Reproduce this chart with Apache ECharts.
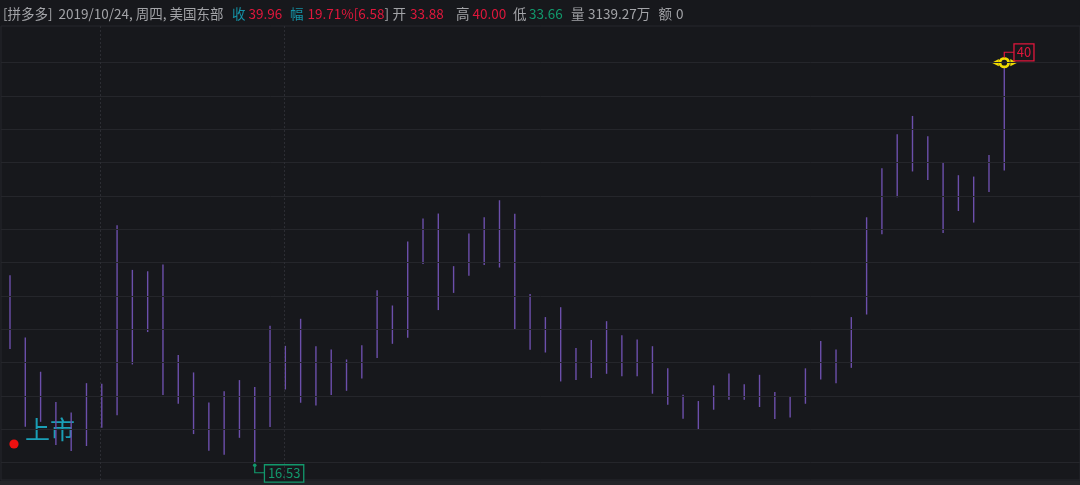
<!DOCTYPE html>
<html>
<head>
<meta charset="utf-8">
<title>拼多多 周K</title>
<script src="https://cdn.jsdelivr.net/npm/echarts@6/dist/echarts.min.js"></script>
<style>
  html, body { margin: 0; padding: 0; background: #17181c; }
  #chart { width: 1080px; height: 485px; }
</style>
</head>
<body>
<div id="chart"></div>
<script>
// Weekly high / low prices, from the listing week to 2019/10/24
const highs = [
  27.52, 23.86, 21.85, 20.07, 19.46, 21.18, 21.14, 30.45, 27.83, 27.75,
  28.15, 22.84, 21.81, 20.05, 20.70, 21.36, 20.95, 24.55, 23.37, 24.96,
  23.35, 23.16, 22.57, 23.41, 26.64, 25.74, 29.50, 30.85, 31.14, 28.05,
  29.97, 30.92, 31.92, 31.12, 26.42, 25.06, 25.64, 23.25, 23.71, 24.82,
  24.00, 23.75, 23.35, 22.05, 20.50, 20.13, 21.05, 21.75, 21.11, 21.67,
  20.66, 20.38, 22.05, 23.65, 23.16, 25.06, 30.92, 33.80, 35.79, 36.87,
  35.68, 34.15, 33.39, 33.31, 34.58, 40.00
];
const lows = [
  23.18, 18.62, 18.91, 17.55, 17.19, 17.49, 18.56, 19.29, 22.28, 24.18,
  20.48, 19.97, 18.19, 17.21, 16.98, 17.97, 16.53, 18.60, 20.81, 20.03,
  19.87, 20.48, 20.73, 21.46, 22.65, 23.49, 23.84, 28.18, 25.47, 26.48,
  27.48, 28.12, 27.97, 24.31, 23.14, 22.98, 21.28, 21.36, 21.48, 21.73,
  21.58, 21.58, 20.56, 19.91, 19.09, 18.43, 19.62, 20.20, 20.20, 19.78,
  19.07, 19.17, 19.97, 21.40, 21.17, 22.08, 25.21, 29.93, 32.10, 33.61,
  33.11, 30.00, 31.29, 30.61, 32.41, 33.66
];
// Week indices where a period separator is drawn
const separatorWeeks = [6, 18];

// Quote of the latest week
const stockName = '拼多多';
const quoteDate = '2019/10/24, 周四, 美国东部';
const lastClose = 39.96;
const lastChangePct = '19.71%';
const lastChange = 6.58;
const lastOpen = 33.88;
const lastVolume = '3139.27万';
const lastAmount = 0;
const listingLabel = '上市';

const last = highs.length - 1;
const maxHigh = Math.max.apply(null, highs);
const minLow = Math.min.apply(null, lows);
const maxIdx = highs.indexOf(maxHigh);
const minIdx = lows.indexOf(minLow);
const step = (maxHigh - minLow) / 12;
const gridValues = [];
for (let k = 0; k <= 12; k++) gridValues.push(minLow + k * step);

const BG = '#17181c';
const GRAY = '#a3a4a8';
const RED = '#e0173c';
const TEAL = '#1592a6';
const GREEN = '#12996c';
const BAR = '#6c4fab';
const YELLOW = '#f2dc00';
const FONT = '13.5px "Noto Sans CJK SC", "Noto Sans", sans-serif';
const TAG_FONT = '13px "Noto Sans CJK SC", "Noto Sans", sans-serif';

const seriesData = highs.map((h, i) => [i, lows[i], h]);

function renderBar(params, api) {
  const i = api.value(0);
  const pLo = api.coord([i, api.value(1)]);
  const pHi = api.coord([i, api.value(2)]);
  const children = [{
    type: 'line',
    shape: { x1: pLo[0], y1: pLo[1], x2: pHi[0], y2: pHi[1] },
    style: { stroke: BAR, lineWidth: 1.4 }
  }];
  if (params.dataIndex === maxIdx) {
    // highest point: ringed, with a boxed value tag
    const x = pHi[0], y = pHi[1];
    children.push(
      { type: 'polygon', shape: { points: [[x - 12.5, y], [x - 5.5, y - 3.6], [x - 5.5, y + 3.6]] }, style: { fill: YELLOW } },
      { type: 'polygon', shape: { points: [[x + 13, y], [x + 6, y - 3.6], [x + 6, y + 3.6]] }, style: { fill: YELLOW } },
      { type: 'circle', shape: { cx: x, cy: y, r: 4.3 }, style: { fill: BG, stroke: YELLOW, lineWidth: 2.8 } },
      { type: 'polyline', shape: { points: [[x, y - 5], [x, y - 10.4], [x + 9.7, y - 10.4]] }, style: { stroke: RED, lineWidth: 1.2, fill: null } },
      { type: 'rect', shape: { x: x + 9.7, y: y - 18.7, width: 20, height: 17 }, style: { fill: BG, stroke: RED, lineWidth: 1.3 } },
      { type: 'text', x: x + 19.7, y: y - 10.1, style: { text: String(maxHigh), fill: RED, font: TAG_FONT, align: 'center', verticalAlign: 'middle' } }
    );
  }
  if (params.dataIndex === minIdx) {
    // lowest point: boxed value tag below the bar
    const x = pLo[0], y = pLo[1];
    children.push(
      { type: 'circle', shape: { cx: x, cy: y + 3, r: 1.8 }, style: { fill: GREEN } },
      { type: 'polyline', shape: { points: [[x, y + 3], [x, y + 10.4], [x + 9.7, y + 10.4]] }, style: { stroke: GREEN, lineWidth: 1.2, fill: null } },
      { type: 'rect', shape: { x: x + 9.7, y: y + 2.4, width: 39.3, height: 17.3 }, style: { fill: BG, stroke: GREEN, lineWidth: 1.3 } },
      { type: 'text', x: x + 29.4, y: y + 11.2, style: { text: String(minLow), fill: GREEN, font: TAG_FONT, align: 'center', verticalAlign: 'middle' } }
    );
  }
  return { type: 'group', children: children };
}

// Quote header, laid out piece by piece
const headerParts = [
  [3, '[' + stockName + ']', GRAY],
  [58.5, quoteDate, GRAY],
  [232, '收', TEAL],
  [248.5, lastClose.toFixed(2), RED],
  [290, '幅', TEAL],
  [307.5, '{r|' + lastChangePct + '[' + lastChange.toFixed(2) + '}{g|]}', RED],
  [392.5, '开', GRAY],
  [410, lastOpen.toFixed(2), RED],
  [456, '高', GRAY],
  [472.5, highs[last].toFixed(2), RED],
  [513, '低', GRAY],
  [529, lows[last].toFixed(2), GREEN],
  [571, '量', GRAY],
  [588, lastVolume, GRAY],
  [658.5, '额', GRAY],
  [676, String(lastAmount), GRAY]
];
const graphics = headerParts.map(p => ({
  type: 'text', x: p[0], y: 14, silent: true,
  style: {
    text: p[1], fill: p[2], font: FONT, verticalAlign: 'middle',
    rich: {
      r: { fill: RED, font: FONT },
      g: { fill: GRAY, font: FONT }
    }
  }
}));
graphics.push(
  { type: 'rect', shape: { x: 0, y: 481, width: 1080, height: 4 }, style: { fill: '#232428' }, silent: true },
  { type: 'circle', shape: { cx: 14, cy: 444, r: 4.6 }, style: { fill: '#f01010' }, silent: true },
  { type: 'text', x: 25, y: 429, silent: true,
    style: { text: listingLabel, fill: '#1a9fb6', font: '25px "Noto Sans CJK SC", sans-serif', verticalAlign: 'middle' } }
);

const chart = echarts.init(document.getElementById('chart'), null, { renderer: 'canvas' });
chart.setOption({
  backgroundColor: BG,
  animation: false,
  grid: {
    left: 1, right: 0, top: 26, bottom: 5,
    show: true, borderColor: '#26272c', borderWidth: 1, backgroundColor: 'transparent'
  },
  xAxis: {
    type: 'value',
    min: -0.588, max: last + 4.95,
    axisLine: { show: false }, axisTick: { show: false }, axisLabel: { show: false },
    splitLine: { show: false }
  },
  yAxis: {
    type: 'value',
    min: minLow - 0.53 * step, max: maxHigh + 1.10 * step,
    axisLine: { show: false }, axisTick: { show: false }, axisLabel: { show: false },
    splitLine: { show: false }
  },
  graphic: graphics,
  series: [
    {
      type: 'line', data: [], silent: true, z: 1,
      markLine: {
        silent: true, symbol: ['none', 'none'], animation: false,
        label: { show: false },
        lineStyle: { color: '#25262b', width: 1, type: 'solid' },
        data: gridValues.map(v => ({ yAxis: v }))
      }
    },
    {
      type: 'line', data: [], silent: true, z: 1,
      markLine: {
        silent: true, symbol: ['none', 'none'], animation: false,
        label: { show: false },
        lineStyle: { color: '#2c2d33', width: 1, type: [2, 2] },
        data: separatorWeeks.map(w => ({ xAxis: w - 0.07 }))
      }
    },
    {
      type: 'custom', z: 3, clip: false,
      renderItem: renderBar,
      encode: { x: 0, y: [1, 2] },
      data: seriesData
    }
  ]
});
</script>
</body>
</html>
